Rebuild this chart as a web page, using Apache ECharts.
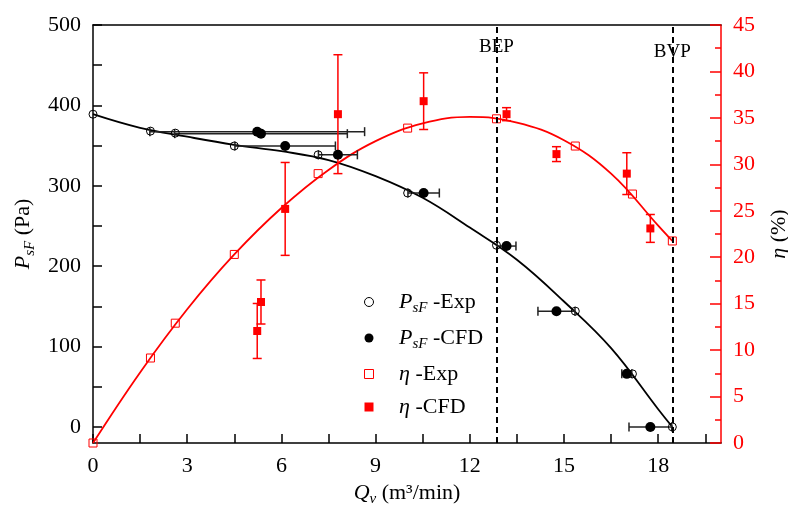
<!DOCTYPE html>
<html>
<head>
<meta charset="utf-8">
<script src="https://cdn.jsdelivr.net/npm/echarts@6/dist/echarts.min.js"></script>
<style>html,body{margin:0;padding:0;background:#fff;}#c{width:788px;height:505px;}</style>
</head>
<body>
<div id="c"></div>
<script>
// ---- data ----
const qExp = [0, 1.83, 2.62, 4.5, 7.17, 10.02, 12.85, 15.36, 17.18, 18.45];
const pExp = [389, 368, 365.5, 349.5, 338.5, 291, 226, 144, 66, 0];
const etaExp = [0, 9.15, 12.9, 20.3, 29.0, 33.9, 34.9, 31.97, 26.8, 21.75];

const qCfd = [5.23, 5.35, 6.12, 7.8, 10.53, 13.17, 14.76, 17.0, 17.75];
const pCfd = [367.3, 364.8, 349.5, 338.5, 291, 225, 144, 66, 0];
const qCfdErr = [3.42, 2.75, 1.6, 0.62, 0.5, 0.3, 0.59, 0.16, 0.68];
const etaCfd = [12.06, 15.18, 25.2, 35.4, 36.8, 35.4, 31.1, 29.0, 23.1];
const etaCfdErr = [2.96, 2.37, 5.0, 6.4, 3.05, 0.7, 0.8, 2.25, 1.5];

const qFit = [0, 1.5, 3, 4.5, 6, 7.5, 9, 10.5, 12, 13.5, 15, 16.5, 18, 18.45];
const pFit = [389, 372, 361, 351, 343, 332, 312, 285, 248, 208, 156, 98, 22, 0];
const etaFit = [0, 7.6, 14.4, 20.3, 25.3, 29.4, 32.5, 34.4, 35.1, 34.5, 32.6, 29.0, 23.4, 21.75];

const qBEP = 12.85, qBVP = 18.45;

const xTicks = [0, 1.5, 3, 4.5, 6, 7.5, 9, 10.5, 12, 13.5, 15, 16.5, 18, 19.5];
const xLabels = [0, 3, 6, 9, 12, 15, 18];
const pTicks = [0, 50, 100, 150, 200, 250, 300, 350, 400, 450, 500];
const pLabels = [0, 100, 200, 300, 400, 500];

// ---- chart ----
const FF = "'Liberation Serif', 'Times New Roman', serif";
const rich = {
  i: {fontFamily: FF, fontStyle: 'italic', fontSize: 22, lineHeight: 28, color: '#000'},
  s: {fontFamily: FF, fontStyle: 'italic', fontSize: 15, lineHeight: 6, verticalAlign: 'bottom', color: '#000'},
  n: {fontFamily: FF, fontSize: 22, lineHeight: 28, color: '#000'}
};
const zip = (a, b) => a.map((v, i) => [v, b[i]]);
const SQ = 'path://M0,0L10,0L10,10L0,10Z';

function hErr(params, api) {
  const q = api.value(0), p = api.value(1), e = api.value(2);
  const a = api.coord([q - e, p]), b = api.coord([q + e, p]);
  const h = 4.5;
  const style = {stroke: '#222', lineWidth: 1.5, fill: null};
  return {type: 'group', children: [
    {type: 'line', shape: {x1: a[0], y1: a[1], x2: b[0], y2: b[1]}, style},
    {type: 'line', shape: {x1: a[0], y1: a[1] - h, x2: a[0], y2: a[1] + h}, style},
    {type: 'line', shape: {x1: b[0], y1: b[1] - h, x2: b[0], y2: b[1] + h}, style}
  ]};
}
function vErr(params, api) {
  const q = api.value(0), v = api.value(1), e = api.value(2);
  const a = api.coord([q, v - e]), b = api.coord([q, v + e]);
  const w = 4.5;
  const style = {stroke: '#ff0000', lineWidth: 1.5, fill: null};
  return {type: 'group', children: [
    {type: 'line', shape: {x1: a[0], y1: a[1], x2: b[0], y2: b[1]}, style},
    {type: 'line', shape: {x1: a[0] - w, y1: a[1], x2: a[0] + w, y2: a[1]}, style},
    {type: 'line', shape: {x1: b[0] - w, y1: b[1], x2: b[0] + w, y2: b[1]}, style}
  ]};
}

const legendText = {
  'PExp': '{i|P}{s|sF}{n| -Exp}',
  'PCfd': '{i|P}{s|sF}{n| -CFD}',
  'EExp': '{i|η}{n| -Exp}',
  'ECfd': '{i|η}{n| -CFD}'
};

const chart = echarts.init(document.getElementById('c'), null, {renderer: 'canvas'});
chart.setOption({
  animation: false,
  backgroundColor: '#fff',
  grid: {left: 93, right: 67, top: 25, bottom: 62, containLabel: false, outerBoundsMode: 'none'},
  legend: {
    orient: 'vertical', left: 364, top: 291, padding: 0,
    itemWidth: 50, itemHeight: 9, itemGap: 11, selectedMode: false,
    textStyle: {fontFamily: FF, fontSize: 22, color: '#000', rich: rich},
    formatter: name => legendText[name],
    data: [
      {name: 'PExp', icon: 'circle', itemStyle: {color: '#fff', borderColor: '#000', borderWidth: 1}},
      {name: 'PCfd', icon: 'circle', itemStyle: {color: '#000', borderWidth: 0}},
      {name: 'EExp', icon: SQ, itemStyle: {color: '#fff', borderColor: '#ff0000', borderWidth: 1}},
      {name: 'ECfd', icon: SQ, itemStyle: {color: '#ff0000', borderWidth: 0}}
    ]
  },
  xAxis: [{
    type: 'value', min: 0, max: 20, position: 'bottom',
    name: '{i|Q}{s|v}{n| (m³/min)}', nameLocation: 'middle', nameGap: 34,
    nameTextStyle: {rich: rich},
    axisLine: {show: true, onZero: false, lineStyle: {color: '#000', width: 1.5}},
    axisTick: {show: true, inside: true, length: 9, customValues: xTicks, lineStyle: {color: '#000', width: 1.5}},
    axisLabel: {customValues: xLabels, margin: 12, fontFamily: FF, fontSize: 22, color: '#000'},
    splitLine: {show: false}
  }, {
    type: 'value', min: 0, max: 20, position: 'top',
    axisLine: {show: true, onZero: false, lineStyle: {color: '#000', width: 1.5}},
    axisTick: {show: false}, axisLabel: {show: false}, splitLine: {show: false}
  }],
  yAxis: [{
    type: 'value', min: -20, max: 500, position: 'left',
    name: '{i|P}{s|sF}{n| (Pa)}', nameLocation: 'middle', nameRotate: 90, nameGap: 54,
    nameTextStyle: {rich: rich},
    axisLine: {show: true, onZero: false, lineStyle: {color: '#000', width: 1.5}},
    axisTick: {show: true, inside: true, length: 9, customValues: pTicks, lineStyle: {color: '#000', width: 1.5}},
    axisLabel: {customValues: pLabels, margin: 12, fontFamily: FF, fontSize: 22, color: '#000'},
    splitLine: {show: false}
  }, {
    type: 'value', min: 0, max: 45, interval: 5, position: 'right',
    name: '{i|η}{n| (%)}', nameLocation: 'middle', nameRotate: 90, nameGap: 44,
    nameTextStyle: {rich: rich},
    axisLine: {show: true, onZero: false, lineStyle: {color: '#ff0000', width: 1.5}},
    axisTick: {show: true, inside: true, length: 11, lineStyle: {color: '#ff0000', width: 1.5}},
    minorTick: {show: true, splitNumber: 2, length: 6, lineStyle: {color: '#ff0000', width: 1.5}},
    axisLabel: {margin: 12, fontFamily: FF, fontSize: 22, color: '#ff0000'},
    splitLine: {show: false}, minorSplitLine: {show: false}
  }],
  series: [
    {
      name: 'PFit', type: 'line', xAxisIndex: 0, yAxisIndex: 0,
      data: zip(qFit, pFit), smooth: 0.4, showSymbol: false, silent: true,
      lineStyle: {color: '#000', width: 1.8}, z: 2,
      markLine: {
        symbol: 'none', silent: true, animation: false,
        lineStyle: {type: [6, 4], color: '#000', width: 2},
        label: {show: false},
        data: [{xAxis: qBEP}, {xAxis: qBVP}]
      },
      markPoint: {
        symbol: 'rect', symbolSize: 1, silent: true,
        itemStyle: {color: 'rgba(0,0,0,0)'},
        label: {show: true, position: 'inside', fontFamily: FF, fontSize: 19, color: '#000'},
        data: [
          {coord: [qBEP, 472], label: {formatter: 'BEP'}},
          {coord: [qBVP, 467], label: {formatter: 'BVP'}}
        ]
      }
    },
    {
      name: 'EFit', type: 'line', xAxisIndex: 0, yAxisIndex: 1,
      data: zip(qFit, etaFit), smooth: 0.4, showSymbol: false, silent: true,
      lineStyle: {color: '#ff0000', width: 1.8}, z: 2
    },
    {
      name: 'PErr', type: 'custom', xAxisIndex: 0, yAxisIndex: 0,
      data: qCfd.map((q, i) => [q, pCfd[i], qCfdErr[i]]),
      encode: {x: 0, y: 1}, renderItem: hErr, silent: true, z: 3
    },
    {
      name: 'EErr', type: 'custom', xAxisIndex: 0, yAxisIndex: 1,
      data: qCfd.map((q, i) => [q, etaCfd[i], etaCfdErr[i]]),
      encode: {x: 0, y: 1}, renderItem: vErr, silent: true, z: 3
    },
    {
      name: 'PExp', type: 'scatter', xAxisIndex: 0, yAxisIndex: 0,
      data: zip(qExp, pExp), symbol: 'circle', symbolSize: 8,
      itemStyle: {color: 'rgba(0,0,0,0)', borderColor: '#000', borderWidth: 1, opacity: 1}, z: 4
    },
    {
      name: 'PCfd', type: 'scatter', xAxisIndex: 0, yAxisIndex: 0,
      data: zip(qCfd, pCfd), symbol: 'circle', symbolSize: 10,
      itemStyle: {color: '#000', opacity: 1}, z: 4
    },
    {
      name: 'EExp', type: 'scatter', xAxisIndex: 0, yAxisIndex: 1,
      data: zip(qExp, etaExp), symbol: 'rect', symbolSize: 8,
      itemStyle: {color: 'rgba(0,0,0,0)', borderColor: '#ff0000', borderWidth: 1, opacity: 1}, z: 4
    },
    {
      name: 'ECfd', type: 'scatter', xAxisIndex: 0, yAxisIndex: 1,
      data: zip(qCfd, etaCfd), symbol: 'rect', symbolSize: 8,
      itemStyle: {color: '#ff0000', opacity: 1}, z: 4
    }
  ]
});
</script>
</body>
</html>
